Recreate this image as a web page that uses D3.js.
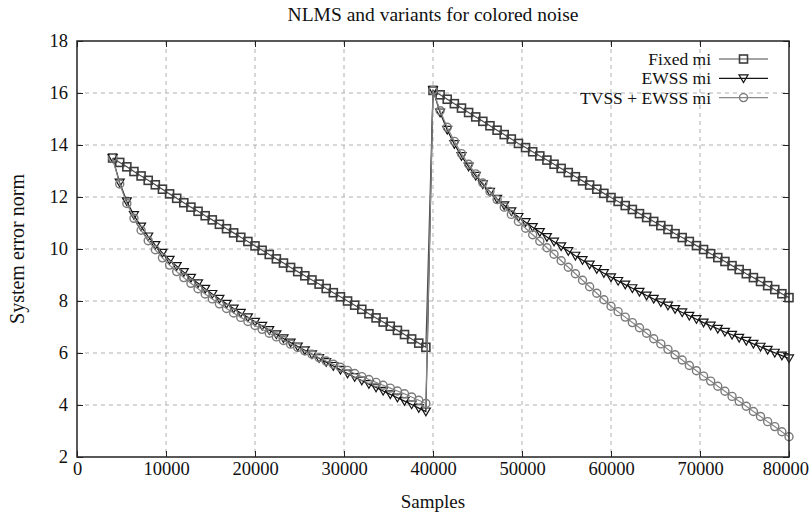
<!DOCTYPE html>
<html>
<head>
<meta charset="utf-8">
<script src="https://cdn.jsdelivr.net/npm/d3@7"></script>
<style>
  html, body { margin: 0; padding: 0; background: #fff; }
  svg { display: block; }
  svg text { font-family: "Liberation Serif", "DejaVu Serif", serif; fill: #111; }
</style>
</head>
<body>
<svg id="chart" width="810" height="518"></svg>
<script>
// Sample positions: every 800 samples, from 4000 to 80000 (step change at 40000)
const samples = d3.range(5, 101).map(k => k * 800);

// System error norm per algorithm
const fixedMi = [
  13.50, 13.33, 13.16, 12.98, 12.81, 12.64, 12.47, 12.30, 12.12, 11.95,
  11.78, 11.61, 11.45, 11.28, 11.12, 10.95, 10.78, 10.62, 10.45, 10.29,
  10.12, 9.95, 9.79, 9.62, 9.46, 9.29, 9.13, 8.97, 8.81, 8.65,
  8.48, 8.32, 8.16, 8.00, 7.84, 7.68, 7.51, 7.35, 7.19, 7.03,
  6.87, 6.71, 6.54, 6.38, 6.22,
  16.10, 15.93, 15.76, 15.59, 15.42, 15.25, 15.08, 14.91, 14.74, 14.57,
  14.40, 14.23, 14.06, 13.90, 13.74, 13.58, 13.42, 13.26, 13.10, 12.94,
  12.78, 12.62, 12.46, 12.30, 12.14, 11.98, 11.83, 11.67, 11.52, 11.36,
  11.21, 11.06, 10.90, 10.75, 10.59, 10.44, 10.29, 10.13, 9.98, 9.82,
  9.67, 9.52, 9.36, 9.21, 9.05, 8.90, 8.75, 8.59, 8.44, 8.28, 8.13
];

const ewssMi = [
  13.50, 12.55, 11.83, 11.30, 10.86, 10.48, 10.15, 9.85, 9.58, 9.34,
  9.11, 8.89, 8.68, 8.47, 8.27, 8.08, 7.89, 7.71, 7.54, 7.37,
  7.20, 7.04, 6.88, 6.72, 6.56, 6.40, 6.25, 6.10, 5.95, 5.80,
  5.65, 5.50, 5.35, 5.21, 5.07, 4.94, 4.80, 4.67, 4.54, 4.41,
  4.28, 4.15, 4.02, 3.88, 3.75,
  16.10, 15.25, 14.58, 14.03, 13.57, 13.17, 12.81, 12.49, 12.20, 11.93,
  11.68, 11.45, 11.23, 11.03, 10.84, 10.65, 10.46, 10.28, 10.10, 9.92,
  9.74, 9.57, 9.40, 9.23, 9.07, 8.91, 8.77, 8.63, 8.49, 8.35,
  8.21, 8.08, 7.95, 7.82, 7.69, 7.56, 7.43, 7.30, 7.17, 7.05,
  6.93, 6.81, 6.70, 6.58, 6.47, 6.35, 6.24, 6.12, 6.01, 5.90, 5.79
];

const tvssEwssMi = [
  13.50, 12.50, 11.75, 11.18, 10.72, 10.32, 9.97, 9.66, 9.38, 9.13,
  8.90, 8.68, 8.47, 8.27, 8.08, 7.89, 7.71, 7.54, 7.37, 7.21,
  7.06, 6.91, 6.76, 6.62, 6.48, 6.34, 6.21, 6.08, 5.95, 5.82,
  5.69, 5.57, 5.45, 5.33, 5.21, 5.09, 4.98, 4.87, 4.76, 4.65,
  4.54, 4.43, 4.31, 4.18, 4.06,
  16.10, 15.32, 14.68, 14.14, 13.67, 13.26, 12.89, 12.54, 12.21, 11.90,
  11.61, 11.33, 11.06, 10.80, 10.55, 10.30, 10.05, 9.80, 9.55, 9.30,
  9.05, 8.80, 8.55, 8.30, 8.05, 7.80, 7.59, 7.38, 7.17, 6.97,
  6.76, 6.55, 6.35, 6.14, 5.93, 5.73, 5.52, 5.32, 5.11, 4.92,
  4.72, 4.53, 4.33, 4.14, 3.95, 3.75, 3.56, 3.36, 3.17, 2.97, 2.78
];

const xTicks = [0, 10000, 20000, 30000, 40000, 50000, 60000, 70000, 80000];
const yTicks = [2, 4, 6, 8, 10, 12, 14, 16, 18];
const seriesNames = ["Fixed mi", "EWSS mi", "TVSS + EWSS mi"];

const svg = d3.select("#chart");
const m = { left: 77, right: 789, top: 41, bottom: 457 };

const x = d3.scaleLinear().domain([0, 80000]).range([m.left, m.right]);
const y = d3.scaleLinear().domain([2, 18]).range([m.bottom, m.top]);

// Grid
const grid = svg.append("g");
grid.selectAll("line.vx").data(xTicks.slice(1, -1)).join("line")
  .attr("x1", d => x(d)).attr("x2", d => x(d))
  .attr("y1", m.top).attr("y2", m.bottom)
  .attr("stroke", "#b0b0b0").attr("stroke-width", 1).attr("stroke-dasharray", "4,4");
grid.selectAll("line.hy").data(yTicks.slice(1, -1)).join("line")
  .attr("x1", m.left).attr("x2", m.right)
  .attr("y1", d => y(d)).attr("y2", d => y(d))
  .attr("stroke", "#b0b0b0").attr("stroke-width", 1).attr("stroke-dasharray", "4,4");

// Axes with tick marks pointing inward, mirrored on top and right
const fmt = d3.format("d");
const axB = svg.append("g").attr("transform", `translate(0,${m.bottom})`)
  .call(d3.axisBottom(x).tickValues(xTicks).tickFormat(fmt).tickSizeInner(-6).tickSizeOuter(0).tickPadding(5));
const axT = svg.append("g").attr("transform", `translate(0,${m.top})`)
  .call(d3.axisTop(x).tickValues(xTicks).tickFormat("").tickSizeInner(-6).tickSizeOuter(0));
const axL = svg.append("g").attr("transform", `translate(${m.left},0)`)
  .call(d3.axisLeft(y).tickValues(yTicks).tickFormat(fmt).tickSizeInner(-6).tickSizeOuter(0).tickPadding(9));
const axR = svg.append("g").attr("transform", `translate(${m.right},0)`)
  .call(d3.axisRight(y).tickValues(yTicks).tickFormat("").tickSizeInner(-6).tickSizeOuter(0));
[axB, axT, axL, axR].forEach(a => {
  a.attr("font-family", null).attr("font-size", null);
  a.select(".domain").remove();
  a.selectAll(".tick line").attr("stroke", "#222").attr("stroke-width", 1);
  a.selectAll("text").attr("font-size", 18.5).attr("fill", "#111");
});
// keep the last bottom label inside the canvas
axB.selectAll(".tick text").filter(d => d === 80000).attr("text-anchor", "end").attr("dx", "1.05em");

// Series
const series = [
  { name: seriesNames[0], values: fixedMi, color: "#3c3c3c", line: "#4a4a4a", shape: "square" },
  { name: seriesNames[1], values: ewssMi, color: "#141414", line: "#141414", shape: "triangle" },
  { name: seriesNames[2], values: tvssEwssMi, color: "#7a7a7a", line: "#888", shape: "circle" }
];

function drawMarker(g, shape, color) {
  if (shape === "square") {
    g.append("rect").attr("x", -4).attr("y", -4).attr("width", 8).attr("height", 8)
      .attr("fill", "none").attr("stroke", color).attr("stroke-width", 1.6);
  } else if (shape === "triangle") {
    g.append("path").attr("d", "M-4.5,-3.5L4.5,-3.5L0,4.2Z")
      .attr("fill", "none").attr("stroke", color).attr("stroke-width", 1.2);
  } else {
    g.append("circle").attr("r", 4)
      .attr("fill", "none").attr("stroke", color).attr("stroke-width", 1.4);
  }
}

const line = d3.line().x(d => x(d[0])).y(d => y(d[1]));
const plot = svg.append("g");
series.forEach(s => {
  const pts = samples.map((xv, i) => [xv, s.values[i]]);
  plot.append("path").datum(pts).attr("d", line)
    .attr("fill", "none").attr("stroke", s.line).attr("stroke-width", 1.2);
  const mk = plot.append("g");
  pts.forEach(p => {
    const g = mk.append("g").attr("transform", `translate(${x(p[0])},${y(p[1])})`);
    drawMarker(g, s.shape, s.color);
  });
});

// Frame
svg.append("rect").attr("x", m.left).attr("y", m.top)
  .attr("width", m.right - m.left).attr("height", m.bottom - m.top)
  .attr("fill", "none").attr("stroke", "#222").attr("stroke-width", 1.5);

// Legend
const legend = svg.append("g");
series.forEach((s, i) => {
  const cy = 59 + i * 19.3;
  legend.append("text").attr("x", 711).attr("y", cy + 6)
    .attr("text-anchor", "end").attr("font-size", 17.5).text(s.name);
  legend.append("line").attr("x1", 719).attr("x2", 768).attr("y1", cy).attr("y2", cy)
    .attr("stroke", s.line).attr("stroke-width", 1.2);
  const g = legend.append("g").attr("transform", `translate(743.5,${cy})`);
  drawMarker(g, s.shape, s.color);
});

// Titles
svg.append("text").attr("x", 433).attr("y", 21).attr("text-anchor", "middle")
  .attr("font-size", 19.5).text("NLMS and variants for colored noise");
svg.append("text").attr("x", 433).attr("y", 508).attr("text-anchor", "middle")
  .attr("font-size", 19).text("Samples");
svg.append("text").attr("transform", "translate(24,249) rotate(-90)").attr("text-anchor", "middle")
  .attr("font-size", 20).text("System error norm");
</script>
</body>
</html>
